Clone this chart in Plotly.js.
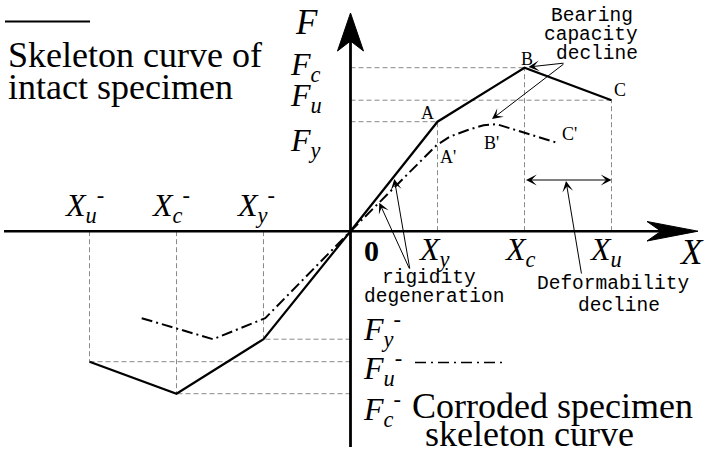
<!DOCTYPE html>
<html><head><meta charset="utf-8">
<script src="https://cdn.plot.ly/plotly-3.0.1.min.js"></script>
<style>html,body{margin:0;padding:0;background:#fff;}#chart{width:709px;height:453px;}</style>
</head><body><div id="chart"></div>
<script>
// ---------------- data (schematic values) ----------------
const intactX   = [-3, -2, -1, 0, 1, 2, 3];
const intactF   = [-1.305, -1.625, -1.08, 0, 1.095, 1.635, 1.31];
const corrodedX = [-2.40, -1.58, -0.98, 0, 0.99, 1.14, 1.34, 1.53, 1.68, 2.39];
const corrodedF = [-0.87, -1.08, -0.87, 0, 0.86, 0.945, 1.01, 1.06, 1.07, 0.88];
const posXLabels = ['<i>X</i><sub><i>y</i></sub>', '<i>X</i><sub><i>c</i></sub>', '<i>X</i><sub><i>u</i></sub>'];
const negXLabels = ['<i>X</i><sub><i>u</i></sub><sup>-</sup>', '<i>X</i><sub><i>c</i></sub><sup>-</sup>', '<i>X</i><sub><i>y</i></sub><sup>-</sup>'];
const posFLabels = ['<i>F</i><sub><i>c</i></sub>', '<i>F</i><sub><i>u</i></sub>', '<i>F</i><sub><i>y</i></sub>'];
const negFLabels = ['<i>F</i><sub><i>y</i></sub><sup>-</sup>', '<i>F</i><sub><i>u</i></sub><sup>-</sup>', '<i>F</i><sub><i>c</i></sub><sup>-</sup>'];
const pointLabels = ['A', 'B', 'C', "A'", "B'", "C'"];
const legendIntact = ['Skeleton curve of', 'intact specimen'];
const legendCorroded = ['Corroded specimen', 'skeleton curve'];
const noteBearing = ['Bearing', 'capacity', 'decline'];
const noteRigidity = ['rigidity', 'degeneration'];
const noteDeform = ['Deformability', 'decline'];

// ---------------- pixel helpers (layout only) ----------------
const OX = 350.5, OY = 231.2, SX = 87, SY = 100;
const dx = px => (px - OX) / SX;
const dy = py => (OY - py) / SY;
const SERIF = 'Liberation Serif, Times New Roman, serif';
const MONO = 'Liberation Mono, Courier New, monospace';

function txt(text, px, py, size, family, extra) {
  return Object.assign({
    text: text, x: dx(px), y: dy(py), xref: 'x', yref: 'y', showarrow: false,
    xanchor: 'center', yanchor: 'middle', borderpad: 0,
    font: {family: family, size: size, color: '#000'}
  }, extra || {});
}
function arrow(tx, ty, hx, hy, extra) {
  return Object.assign({
    text: '', x: dx(hx), y: dy(hy), ax: dx(tx), ay: dy(ty),
    xref: 'x', yref: 'y', axref: 'x', ayref: 'y', showarrow: true,
    arrowhead: 3, arrowsize: 1.8, arrowwidth: 1, arrowcolor: '#000',
    standoff: 0, startstandoff: 0
  }, extra || {});
}

const traces = [
  {x: intactX, y: intactF, type: 'scatter', mode: 'lines', line: {color: '#000', width: 2.2}, hoverinfo: 'skip'},
  {x: corrodedX, y: corrodedF, type: 'scatter', mode: 'lines', line: {color: '#000', width: 2, dash: '11px,4px,2px,4px'}, hoverinfo: 'skip'}
];

const shapes = [];
// guide lines from the intact skeleton points
intactX.forEach((xv, i) => {
  if (xv === 0) return;
  const g = {color: '#8a8a8a', width: 1, dash: '5px,3px'};
  shapes.push({type: 'line', xref: 'x', yref: 'y', x0: 0, x1: xv, y0: intactF[i], y1: intactF[i], line: g, layer: 'below'});
  shapes.push({type: 'line', xref: 'x', yref: 'y', x0: xv, x1: xv, y0: 0, y1: intactF[i], line: g, layer: 'below'});
});
// axes
shapes.push({type: 'line', xref: 'x', yref: 'y', x0: dx(4), x1: dx(664), y0: 0, y1: 0, line: {color: '#000', width: 2.6}});
shapes.push({type: 'line', xref: 'x', yref: 'y', x0: 0, x1: 0, y0: dy(447), y1: dy(36), line: {color: '#000', width: 2.8}});
function path(pts) {
  return 'M' + pts.map(p => dx(p[0]) + ',' + dy(p[1])).join(' L') + ' Z';
}
shapes.push({type: 'path', xref: 'x', yref: 'y', path: path([[698, OY], [647, 221.5], [661, OY], [647, 241]]), fillcolor: '#000', line: {color: '#000', width: 1}});
shapes.push({type: 'path', xref: 'x', yref: 'y', path: path([[OX, 13], [337.5, 51], [OX, 41], [363.5, 51]]), fillcolor: '#000', line: {color: '#000', width: 1}});
// legend samples
shapes.push({type: 'line', xref: 'x', yref: 'y', x0: dx(5), x1: dx(90), y0: dy(21.5), y1: dy(21.5), line: {color: '#000', width: 2}});
shapes.push({type: 'line', xref: 'x', yref: 'y', x0: dx(415), x1: dx(503), y0: dy(362.5), y1: dy(362.5), line: {color: '#000', width: 1.6, dash: '11px,5px,2px,5px'}});

const ann = [];
// axis titles
ann.push(txt('<i>F</i>', 306, 22, 35, SERIF));
ann.push(txt('<i>X</i>', 678, 252, 35, SERIF, {xanchor: 'left'}));
ann.push(txt('<b>0</b>', 371, 250, 30, SERIF));
// position labels
[417, 503, 588].forEach((px, i) => ann.push(txt(posXLabels[i], px, 251, 32, SERIF, {xanchor: 'left'})));
[63, 150, 235].forEach((px, i) => ann.push(txt(negXLabels[i], px, 205, 32, SERIF, {xanchor: 'left'})));
[66, 97, 142].forEach((py, i) => ann.push(txt(posFLabels[i], 289, py, 32, SERIF, {xanchor: 'left'})));
[329, 368, 409].forEach((py, i) => ann.push(txt(negFLabels[i], 362, py, 32, SERIF, {xanchor: 'left'})));
// point labels
[[427.5, 113], [527, 59], [619.5, 90], [448, 157], [491, 143], [569, 134]].forEach((p, i) =>
  ann.push(txt(pointLabels[i], p[0], p[1], 18, SERIF)));
// legend texts
ann.push(txt(legendIntact[0], 7, 55, 36, SERIF, {xanchor: 'left'}));
ann.push(txt(legendIntact[1], 7, 87, 36, SERIF, {xanchor: 'left'}));
ann.push(txt(legendCorroded[0], 411, 406, 36, SERIF, {xanchor: 'left'}));
ann.push(txt(legendCorroded[1], 424, 434, 36, SERIF, {xanchor: 'left'}));
// notes
[[592, 16], [591, 35], [597, 54]].forEach((p, i) => ann.push(txt(noteBearing[i], p[0], p[1], 19.5, MONO)));
[[428.5, 278], [434, 297]].forEach((p, i) => ann.push(txt(noteRigidity[i], p[0], p[1], 19.5, MONO)));
[[612.5, 284], [619, 306]].forEach((p, i) => ann.push(txt(noteDeform[i], p[0], p[1], 19.5, MONO)));
// arrows
ann.push(arrow(565, 63, 528.5, 67));
ann.push(arrow(565, 63, 492, 119));
ann.push(arrow(410, 270, 394.3, 179));
ann.push(arrow(410, 270, 379.3, 202.7));
ann.push(arrow(581.7, 275, 566, 181));
ann.push(arrow(524.5, 180, 611.5, 180, {arrowside: 'end+start', startarrowhead: 3, startarrowsize: 1.8}));

const layout = {
  width: 709, height: 453,
  margin: {l: 0, r: 0, t: 0, b: 0, pad: 0},
  paper_bgcolor: '#fff', plot_bgcolor: '#fff',
  showlegend: false,
  xaxis: {range: [dx(0), dx(709)], visible: false, fixedrange: true},
  yaxis: {range: [dy(453), dy(0)], visible: false, fixedrange: true},
  shapes: shapes, annotations: ann
};
Plotly.newPlot('chart', traces, layout, {displayModeBar: false, staticPlot: true});
</script>
</body></html>
